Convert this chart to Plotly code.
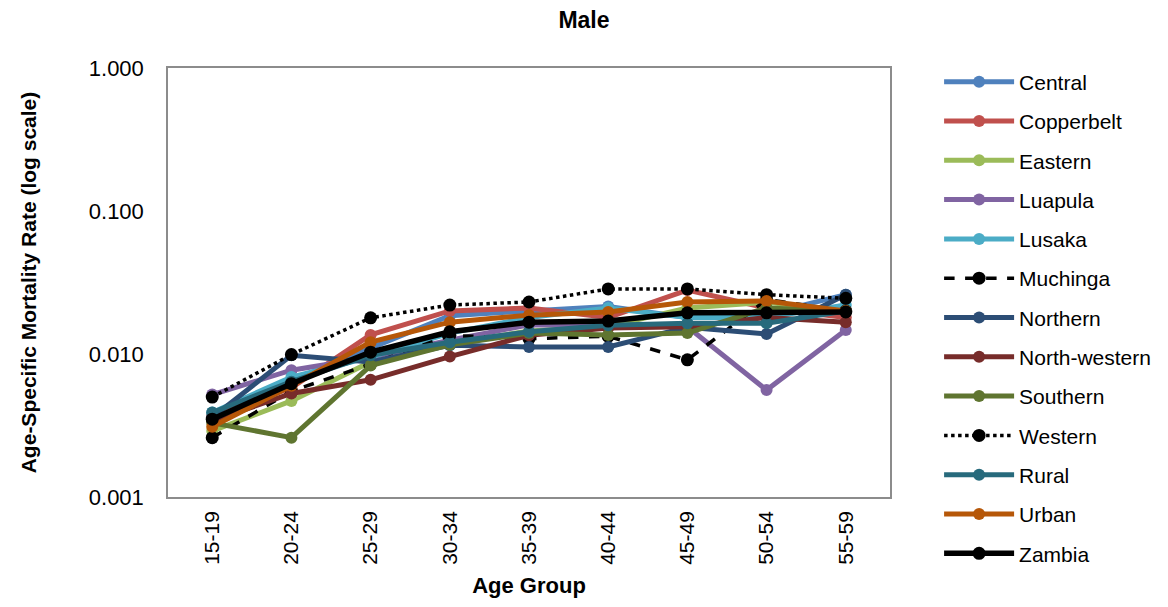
import plotly.graph_objects as go

age_groups = ["15-19", "20-24", "25-29", "30-34", "35-39", "40-44", "45-49", "50-54", "55-59"]

central = [0.0036, 0.0065, 0.0110, 0.0185, 0.0200, 0.0215, 0.0180, 0.0190, 0.0260]
copperbelt = [0.0037, 0.0058, 0.0136, 0.0200, 0.0210, 0.0180, 0.0280, 0.0210, 0.0180]
eastern = [0.0029, 0.0047, 0.0088, 0.0118, 0.0145, 0.0155, 0.0210, 0.0230, 0.0200]
luapula = [0.0052, 0.0077, 0.0095, 0.0125, 0.0160, 0.0158, 0.0155, 0.0056, 0.0147]
lusaka = [0.0039, 0.0069, 0.0095, 0.0140, 0.0180, 0.0210, 0.0180, 0.0180, 0.0220]
muchinga = [0.0026, 0.0055, 0.0085, 0.0135, 0.0128, 0.0133, 0.0091, 0.0240, 0.0200]
northern = [0.0036, 0.0098, 0.0088, 0.0115, 0.0112, 0.0112, 0.0154, 0.0138, 0.0260]
north_western = [0.0034, 0.0053, 0.0066, 0.0096, 0.0135, 0.0152, 0.0155, 0.0180, 0.0167]
southern = [0.0033, 0.0026, 0.0083, 0.0116, 0.0140, 0.0136, 0.0140, 0.0210, 0.0200]
western = [0.0050, 0.0099, 0.0179, 0.0220, 0.0231, 0.0285, 0.0285, 0.0260, 0.0245]
rural = [0.0039, 0.0064, 0.0098, 0.0121, 0.0143, 0.0159, 0.0164, 0.0164, 0.0200]
urban = [0.0031, 0.0060, 0.0121, 0.0167, 0.0187, 0.0197, 0.0231, 0.0235, 0.0200]
zambia = [0.0035, 0.0062, 0.0103, 0.0143, 0.0167, 0.0170, 0.0194, 0.0194, 0.0197]

series = [
    ("Central", central, "#4F81BD", "solid", 5, 12),
    ("Copperbelt", copperbelt, "#C0504D", "solid", 5, 12),
    ("Eastern", eastern, "#9BBB59", "solid", 5, 12),
    ("Luapula", luapula, "#8064A2", "solid", 5, 12),
    ("Lusaka", lusaka, "#4BACC6", "solid", 5, 12),
    ("Muchinga", muchinga, "#000000", "dash", 3.5, 13),
    ("Northern", northern, "#2C4D75", "solid", 5, 12),
    ("North-western", north_western, "#772C2A", "solid", 5, 12),
    ("Southern", southern, "#5F7530", "solid", 5, 12),
    ("Western", western, "#000000", "dot", 3.5, 13),
    ("Rural", rural, "#276A7C", "solid", 5, 12),
    ("Urban", urban, "#B65708", "solid", 5, 12),
    ("Zambia", zambia, "#000000", "solid", 5.5, 13),
]

fig = go.Figure()
for name, vals, color, dash, lw, ms in series:
    fig.add_trace(go.Scatter(
        x=age_groups, y=vals, name=name, mode="lines+markers",
        line=dict(color=color, width=lw, dash=dash),
        marker=dict(color=color, size=ms),
        legendgroup=name,
    ))

font_family = "Liberation Sans, Arial, sans-serif"

fig.update_layout(
    width=1168, height=607,
    margin=dict(l=168, r=278, t=68, b=110),
    paper_bgcolor="white", plot_bgcolor="white",
    font=dict(family=font_family, size=21, color="#000000"),
    title=dict(text="<b>Male</b>", x=0.5, xanchor="center", y=0.967, yanchor="middle",
               font=dict(size=23, family=font_family)),
    showlegend=True,
    legend=dict(x=1.068, xanchor="left", y=1.015, yanchor="top",
                font=dict(size=21, family=font_family),
                tracegroupgap=9, itemwidth=70, bgcolor="rgba(0,0,0,0)",
                maxheight=600),
)

fig.update_xaxes(
    type="category", showgrid=False, showline=True, mirror=True,
    linecolor="#8C8C8C", linewidth=1.5, tickangle=-90, ticks="",
    tickfont=dict(size=21), ticklabelstandoff=4,
    title=dict(text="<b>Age Group</b>", font=dict(size=22), standoff=14),
)
fig.update_yaxes(
    type="log", range=[-3, 0], showgrid=False, showline=True, mirror=True,
    linecolor="#8C8C8C", linewidth=1.5, ticks="",
    tickvals=[0.001, 0.01, 0.1, 1], ticktext=["0.001", "0.010", "0.100", "1.000"],
    tickfont=dict(size=22), ticklabelstandoff=18,
    title=dict(text="<b>Age-Specific Mortality Rate (log scale)</b>", font=dict(size=21), standoff=46),
)

fig.write_html("out.html")
